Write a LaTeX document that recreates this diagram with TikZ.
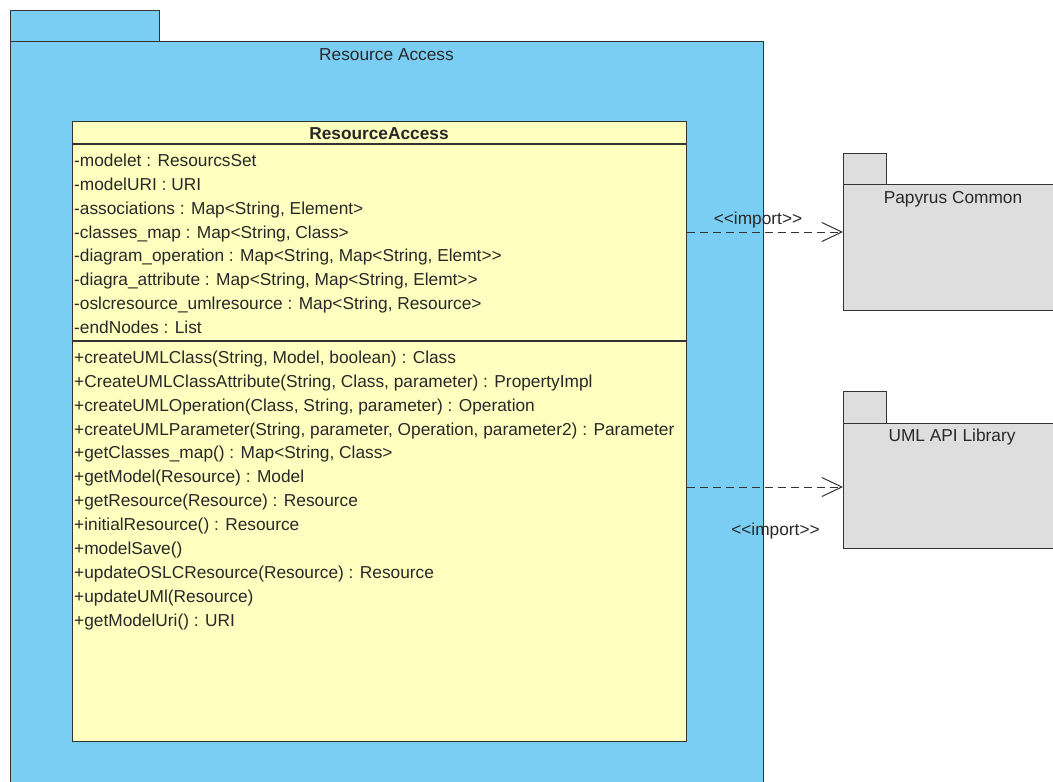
\documentclass[tikz,border=0pt]{standalone}
\usepackage{fontspec}
\setmainfont{Liberation Sans}[Ligatures=TeXOff]
\usetikzlibrary{arrows.meta}
\definecolor{pkgblue}{RGB}{122,206,243}
\definecolor{classyellow}{RGB}{255,255,192}
\definecolor{pkggray}{RGB}{222,222,222}
\definecolor{edge}{RGB}{51,51,51}
\definecolor{ink}{RGB}{40,40,40}
\begin{document}
\begin{tikzpicture}[x=1pt,y=-1pt,
  every node/.style={font=\fontsize{17.3}{20}\selectfont, text=ink},
  frame/.style={draw=edge, line width=1.2pt, rectangle, inner sep=0pt, anchor=north west},
  divider/.style={draw=edge, line width=1.2pt},
  member/.style={anchor=base west, inner sep=0pt},
  heading/.style={anchor=base, inner sep=0pt},
  dep/.style={draw=edge, line width=1pt, dash pattern=on 8pt off 5pt,
    -{Straight Barb[length=20pt,width=19pt,line width=1pt]}},
  ]
\useasboundingbox (0,0) rectangle (1053,782);
\clip (0,0) rectangle (1053,782);

% package "Resource Access"
\node[frame, fill=pkgblue, minimum width=149pt, minimum height=32pt] (ratab) at (10,10) {};
\node[frame, fill=pkgblue, minimum width=753pt, minimum height=780pt] (ra) at (10,41) {};
\node[heading] (ratitle) at (386.5,60) {Resource Access};

% class ResourceAccess
\node[frame, fill=classyellow, minimum width=614pt, minimum height=620pt] (cls) at (72,121) {};
\draw[divider] ([yshift=-23pt]cls.north west) -- ([yshift=-23pt]cls.north east);
\draw[divider] ([yshift=-220pt]cls.north west) -- ([yshift=-220pt]cls.north east);
\node[heading, font=\fontsize{17.3}{20}\selectfont\bfseries] (clsname) at (379,139.3) {ResourceAccess};

% attributes
\foreach \t [count=\i] in {
  {-modelet : ResourcsSet},
  {-modelURI : URI},
  {-associations : Map<String, Element>},
  {-classes\_map : Map<String, Class>},
  {-diagram\_operation : Map<String, Map<String, Elemt>>},
  {-diagra\_attribute : Map<String, Map<String, Elemt>>},
  {-oslcresource\_umlresource : Map<String, Resource>},
  {-endNodes : List}}
  \node[member] (attr\i) at (74,{166.7+23.8*(\i-1)}) {\t};

% operations
\foreach \t [count=\i] in {
  {+createUMLClass(String, Model, boolean) : Class},
  {+CreateUMLClassAttribute(String, Class, parameter) : PropertyImpl},
  {+createUMLOperation(Class, String, parameter) : Operation},
  {+createUMLParameter(String, parameter, Operation, parameter2) : Parameter},
  {+getClasses\_map() : Map<String, Class>},
  {+getModel(Resource) : Model},
  {+getResource(Resource) : Resource},
  {+initialResource() : Resource},
  {+modelSave()},
  {+updateOSLCResource(Resource) : Resource},
  {+updateUMl(Resource)},
  {+getModelUri() : URI}}
  \node[member] (op\i) at (74,{363.3+23.9*(\i-1)}) {\t};

% package "Papyrus Common"
\node[frame, fill=pkggray, minimum width=43pt, minimum height=31pt] (pctab) at (843,153) {};
\node[frame, fill=pkggray, minimum width=220pt, minimum height=126pt] (pc) at (843,184) {};
\node[heading] (pctitle) at (953,203.3) {Papyrus Common};

% package "UML API Library"
\node[frame, fill=pkggray, minimum width=43pt, minimum height=32pt] (ultab) at (843,391) {};
\node[frame, fill=pkggray, minimum width=220pt, minimum height=125pt] (ul) at (843,423) {};
\node[heading] (ultitle) at (952,441.7) {UML API Library};

% import dependencies
\draw[dep] ([yshift=-111pt]cls.north east) -- ([yshift=-48pt]pc.north west);
\node[heading] (imp1) at (758,224) {<<import>>};
\draw[dep] ([yshift=-366pt]cls.north east) -- ([yshift=-64pt]ul.north west);
\node[heading] (imp2) at (775.5,535) {<<import>>};
\end{tikzpicture}
\end{document}
